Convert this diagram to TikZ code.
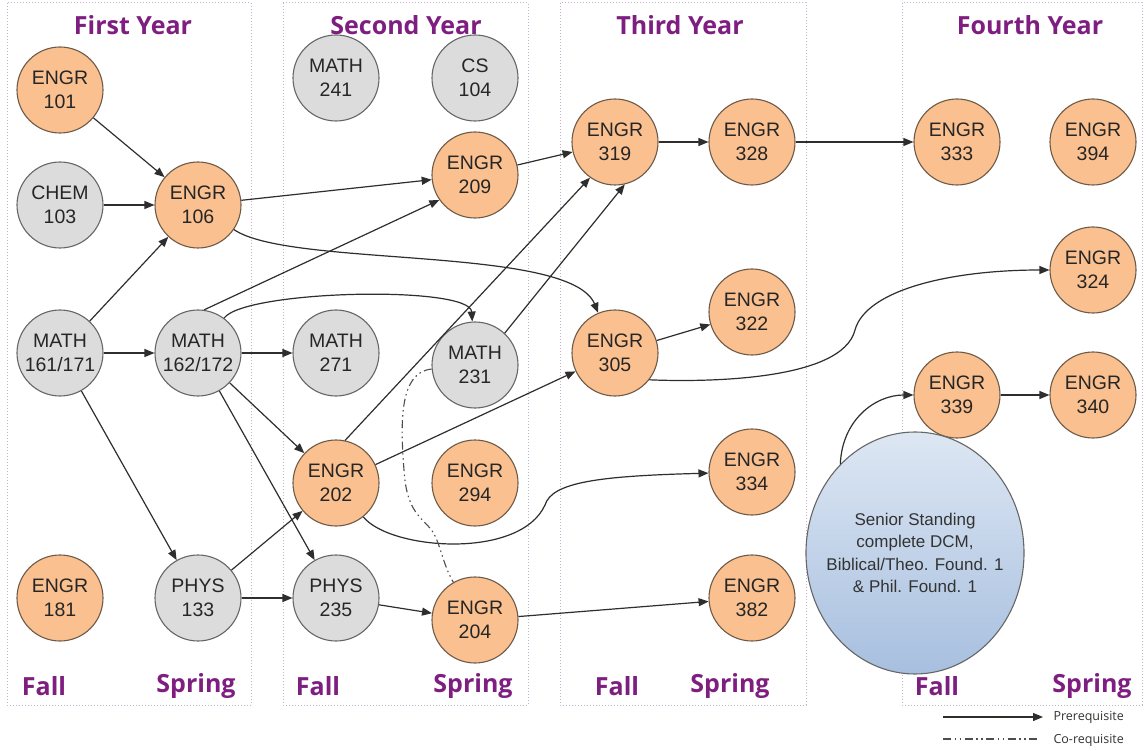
\documentclass[tikz,border=0pt]{standalone}
\usepackage{fontspec}
\setmainfont{Liberation Sans}
\newfontfamily\headfont{Open Sans}
\usetikzlibrary{arrows.meta,shapes.geometric}

\definecolor{engrfill}{HTML}{FAC08F}
\definecolor{engrline}{HTML}{6E5A48}
\definecolor{otherfill}{HTML}{DCDCDC}
\definecolor{otherline}{HTML}{666666}
\definecolor{yearpurple}{HTML}{7E1E80}
\definecolor{boxline}{HTML}{C4B0CC}
\definecolor{seniortop}{HTML}{DDE7F3}
\definecolor{seniorbot}{HTML}{A7BFDF}
\definecolor{arrowgray}{HTML}{2E2E2E}

\tikzset{
  course/.style={circle,draw,line width=1.1pt,minimum size=86pt,inner sep=0pt,
    align=center,font=\fontsize{19.5}{24}\selectfont,text=black!85},
  engr/.style={course,fill=engrfill,draw=engrline},
  other/.style={course,fill=otherfill,draw=otherline},
  yearbox/.style={draw=boxline,line width=1pt,dotted},
  yeartitle/.style={text=yearpurple,font=\headfont\bfseries\fontsize{25}{28}\selectfont},
  legendtext/.style={text=black!80,font=\headfont\fontsize{12.5}{14}\selectfont},
  prereq/.style={draw=arrowgray,line width=1.2pt,-{Triangle[length=10pt,width=8pt]}},
  coreq/.style={draw=arrowgray!85,line width=1.1pt,
    dash pattern=on 8pt off 3.5pt on 1.5pt off 3.5pt on 1.5pt off 3.5pt},
}

\begin{document}
\begin{tikzpicture}[x=1pt,y=-1pt]
  \useasboundingbox[fill=white] (0,0) rectangle (1146,751);

  % year boxes
  \draw[yearbox] (7,3)   rectangle (251,705);
  \draw[yearbox] (283,3) rectangle (528,705);
  \draw[yearbox] (560,3) rectangle (806,705);
  \draw[yearbox] (902,3) rectangle (1142,705);

  \begin{scope}[every node/.style={yeartitle}]
    \node (year1) at (133,25)  {First Year};
    \node (year2) at (406,25)  {Second Year};
    \node (year3) at (680,25)  {Third Year};
    \node (year4) at (1030,25) {Fourth Year};
    \node (fall1)   at (44,686)   {Fall};
    \node (spring1) at (196,686)  {Spring};
    \node (fall2)   at (318,686)  {Fall};
    \node (spring2) at (473,686)  {Spring};
    \node (fall3)   at (617,686)  {Fall};
    \node (spring3) at (730,686)  {Spring};
    \node (fall4)   at (937,686)  {Fall};
    \node (spring4) at (1092,686) {Spring};
  \end{scope}

  % courses
  \begin{scope}[every node/.style={engr}]
    \node (engr101) at (60,90)    {ENGR\\101};
    \node (engr106) at (198,205)  {ENGR\\106};
    \node (engr181) at (60,598)   {ENGR\\181};
    \node (engr209) at (475,175)  {ENGR\\209};
    \node (engr202) at (336,483)  {ENGR\\202};
    \node (engr294) at (475,483)  {ENGR\\294};
    \node (engr204) at (475,620)  {ENGR\\204};
    \node (engr319) at (615,142)  {ENGR\\319};
    \node (engr328) at (752,142)  {ENGR\\328};
    \node (engr305) at (615,353)  {ENGR\\305};
    \node (engr322) at (752,312)  {ENGR\\322};
    \node (engr334) at (752,472)  {ENGR\\334};
    \node (engr382) at (752,598)  {ENGR\\382};
    \node (engr333) at (957,142)  {ENGR\\333};
    \node (engr394) at (1093,142) {ENGR\\394};
    \node (engr324) at (1093,270) {ENGR\\324};
    \node (engr339) at (957,395)  {ENGR\\339};
    \node (engr340) at (1093,395) {ENGR\\340};
  \end{scope}

  \begin{scope}[every node/.style={other}]
    \node (chem103) at (60,205)  {CHEM\\103};
    \node (math161) at (60,353)  {MATH\\161/171};
    \node (math162) at (198,353) {MATH\\162/172};
    \node (phys133) at (198,598) {PHYS\\133};
    \node (math241) at (336,78)  {MATH\\241};
    \node (cs104)   at (475,78)  {CS\\104};
    \node (math271) at (336,353) {MATH\\271};
    \node (math231) at (475,365) {MATH\\231};
    \node (phys235) at (336,598) {PHYS\\235};
  \end{scope}

  \node[ellipse,draw=otherline,line width=1.1pt,top color=seniortop,bottom color=seniorbot,
    minimum width=218pt,minimum height=242pt,inner xsep=-16pt,inner ysep=0pt,
    align=center,text=black!80,font=\fontsize{17}{22.5}\selectfont] (senior) at (915,553)
    {Senior Standing\\complete DCM,\\Biblical/Theo. Found. 1\\\& Phil. Found. 1};

  % prerequisites
  \begin{scope}[every edge/.style={prereq}]
    \path (engr101) edge (engr106);
    \path (chem103) edge (engr106);
    \path (math161) edge (engr106);
    \path (math161) edge (math162);
    \path (math161) edge (phys133);
    \path (engr106) edge (engr209);
    \path (math162.82) edge (engr209.-145);
    \path (math162) edge (math271);
    \path (math162) edge (engr202);
    \path (math162) edge (phys235);
    \path (phys133) edge (engr202);
    \path (phys133) edge (phys235);
    \path (phys235) edge (engr204);
    \path (engr202.78) edge (engr319.-125);
    \path (math231.47) edge (engr319.-77);
    \path (engr202) edge (engr305);
    \path (engr209) edge (engr319);
    \path (engr319) edge (engr328);
    \path (engr328) edge (engr333);
    \path (engr305) edge (engr322);
    \path (engr204) edge (engr382);
    \path (engr339) edge (engr340);
  \end{scope}

  \draw[prereq] (engr106) .. controls (290,268) and (570,245) .. (engr305);
  \draw[prereq] (math162) .. controls (245,290) and (470,285) .. (math231);
  \draw[prereq] (engr202) .. controls (390,550) and (520,560) .. (545,505)
    .. controls (552,482) and (600,476) .. (engr334);
  \draw[prereq] (engr305.-38) .. controls (700,382) and (842,382) .. (855,330)
    .. controls (866,290) and (950,270) .. (engr324);
  \draw[prereq] (senior.130) .. controls (842,420) and (875,395) .. (engr339);

  % co-requisite
  \draw[coreq] (math231) .. controls (400,372) and (400,420) .. (404,470)
    .. controls (407,520) and (428,518) .. (436,538)
    .. controls (442,552) and (444,566) .. (engr204);

  % legend
  \coordinate (prereqA) at (943,717);
  \coordinate (prereqB) at (1043,717);
  \coordinate (coreqA) at (943,739);
  \coordinate (coreqB) at (1040,739);
  \draw[prereq] (prereqA) -- (prereqB);
  \draw[coreq] (coreqA) -- (coreqB);
  \node[legendtext,anchor=west] (prereqlabel) at (1050,717) {Prerequisite};
  \node[legendtext,anchor=west] (coreqlabel) at (1050,740) {Co-requisite};

\end{tikzpicture}
\end{document}
